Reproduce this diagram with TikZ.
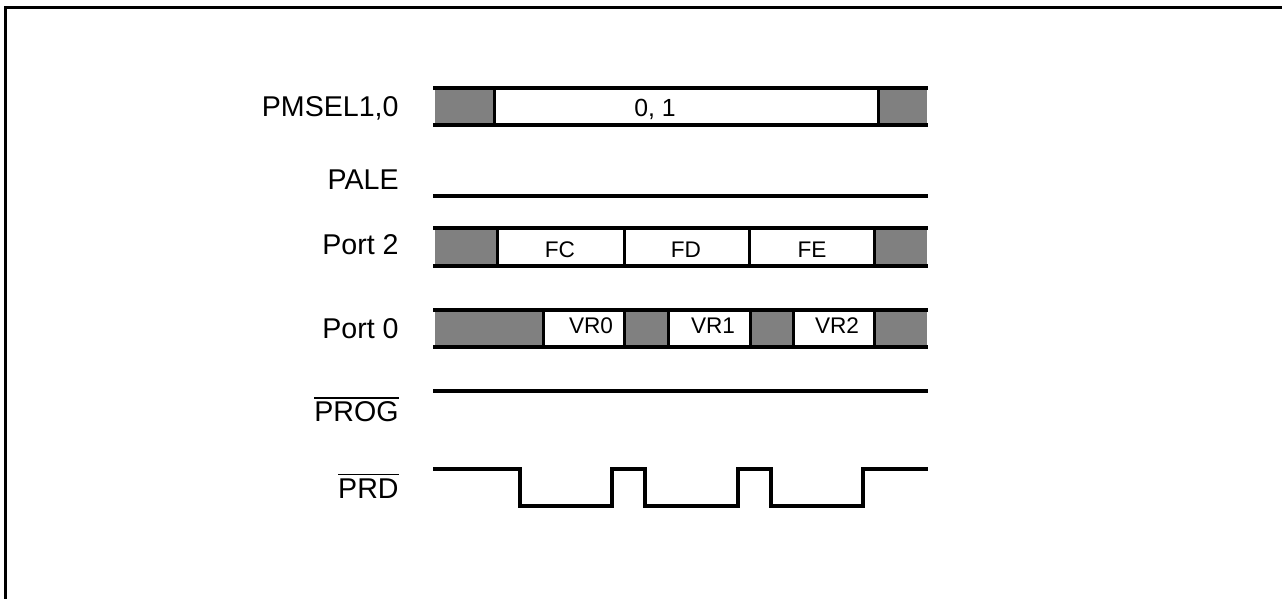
\documentclass[tikz,border=0pt]{standalone}
\usepackage{fontspec}
\setmainfont{Liberation Sans}
\newcommand{\ovlbar}[1]{\leavevmode\vbox{\hrule height 0.8pt \kern 1.6pt \hbox{#1}}}
\begin{document}
\begin{tikzpicture}[x=0.5pt,y=-0.5pt,
  sig/.style={line width=1.6pt},
  vsig/.style={line width=1.5pt},
  frame/.style={line width=1.5pt},
  dc/.style={fill={rgb,255:red,128;green,128;blue,128}},
  lbl/.style={anchor=base east,inner sep=0pt,font=\fontsize{14.3pt}{16pt}\selectfont},
  val/.style={anchor=base,inner sep=0pt,font=\fontsize{11.3pt}{13pt}\selectfont}]
\useasboundingbox (0,0) rectangle (1282,599);
% frame
\draw[frame] (5,599) -- (5,8) -- (1282,8);
% labels
\node[lbl] (lpmsel) at (399,117) {PMSEL1,0};
\node[lbl] (lpale) at (399,190) {PALE};
\node[lbl] (lp2) at (399,255) {Port 2};
\node[lbl] (lp0) at (399,338) {Port 0};
\node[lbl] (lprog) at (399,422) {\ovlbar{PROG}};
\node[lbl] (lprd) at (399,498) {\ovlbar{PRD}};
% PMSEL1,0
\fill[dc] (435,88) rectangle (494,125);
\fill[dc] (878,88) rectangle (927,125);
\draw[vsig] (494,88) -- (494,125);
\draw[vsig] (878,88) -- (878,125);
\draw[sig] (433,88) -- (928,88);
\draw[sig] (433,125) -- (928,125);
\node[val,font=\fontsize{12.4pt}{14pt}\selectfont] (v01) at (655,117) {0, 1};
% PALE
\draw[sig] (433,196) -- (928,196);
% Port 2
\fill[dc] (435,228) rectangle (497,266);
\fill[dc] (874,228) rectangle (927,266);
\foreach \x in {497,624,749,874} \draw[vsig] (\x,228) -- (\x,266);
\draw[sig] (433,228) -- (928,228);
\draw[sig] (433,266) -- (928,266);
\node[val] (vfc) at (560,258) {FC};
\node[val] (vfd) at (686,258) {FD};
\node[val] (vfe) at (812,258) {FE};
% Port 0
\fill[dc] (435,310) rectangle (543,347);
\fill[dc] (624,310) rectangle (668,347);
\fill[dc] (750,310) rectangle (793,347);
\fill[dc] (874,310) rectangle (927,347);
\foreach \x in {543,624,668,750,793,874} \draw[vsig] (\x,310) -- (\x,347);
\draw[sig] (433,310) -- (928,310);
\draw[sig] (433,347) -- (928,347);
\node[val] (vr0) at (591,334) {VR0};
\node[val] (vr1) at (713,334) {VR1};
\node[val] (vr2) at (837,334) {VR2};
% PROG
\draw[sig] (433,391) -- (928,391);
% PRD
\draw[sig,line join=miter] (433,469) -- (520,469) -- (520,506) -- (612,506) -- (612,469)
  -- (645,469) -- (645,506) -- (738,506) -- (738,469) -- (771,469) -- (771,506)
  -- (863,506) -- (863,469) -- (928,469);
\end{tikzpicture}
\end{document}
